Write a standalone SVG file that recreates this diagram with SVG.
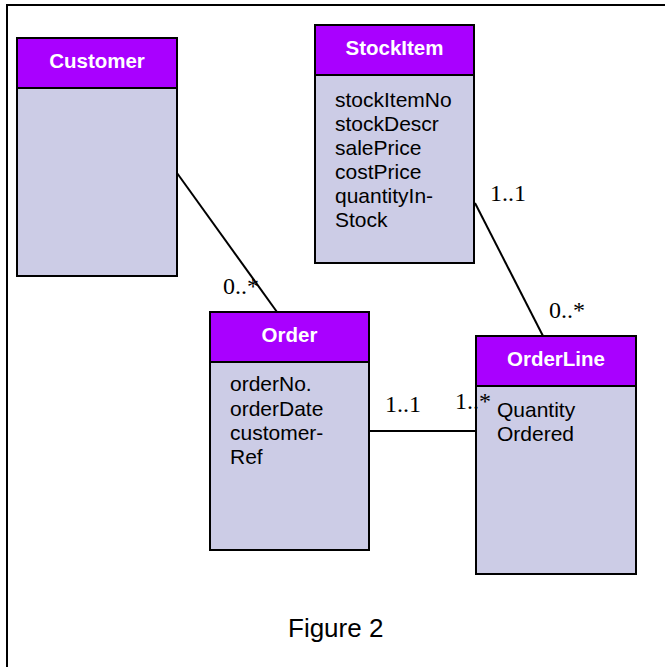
<svg xmlns="http://www.w3.org/2000/svg" width="665" height="667" viewBox="0 0 665 667">
<style>
.hd{fill:#A900FF;stroke:#000;stroke-width:2}
.bd{fill:#CCCCE6;stroke:#000;stroke-width:2}
.t{font-family:"Liberation Sans",Arial,sans-serif;font-size:20.5px;font-weight:bold;fill:#fff;text-anchor:middle}
.a{font-family:"Liberation Sans",Arial,sans-serif;font-size:21px;fill:#000}
.m{font-family:"Liberation Serif","Times New Roman",serif;font-size:24px;fill:#000}
.c{stroke:#000;stroke-width:2;fill:none}
</style>
<rect x="7" y="5" width="700" height="700" fill="#fff" stroke="#000" stroke-width="2"/>
<g id="connectors">
<line class="c" x1="177" y1="173" x2="277" y2="312"/>
<line class="c" x1="475" y1="203" x2="543" y2="336"/>
<line class="c" x1="369" y1="431" x2="476" y2="431"/>
</g>
<g id="customer">
<rect class="bd" x="17" y="88" width="160" height="188"/>
<rect class="hd" x="17" y="38" width="160" height="50"/>
<text class="t" x="97" y="68">Customer</text>
</g>
<g id="stockitem">
<rect class="bd" x="315" y="75" width="159" height="188"/>
<rect class="hd" x="315" y="25" width="159" height="50"/>
<text class="t" x="394.5" y="55">StockItem</text>
<text class="a" x="335" y="107">stockItemNo</text>
<text class="a" x="335" y="131">stockDescr</text>
<text class="a" x="335" y="155">salePrice</text>
<text class="a" x="335" y="179">costPrice</text>
<text class="a" x="335" y="203">quantityIn-</text>
<text class="a" x="335" y="227">Stock</text>
</g>
<g id="order">
<rect class="bd" x="210" y="362" width="159" height="188"/>
<rect class="hd" x="210" y="312" width="159" height="50"/>
<text class="t" x="289.5" y="342">Order</text>
<text class="a" x="230" y="391">orderNo.</text>
<text class="a" x="230" y="416">orderDate</text>
<text class="a" x="230" y="440">customer-</text>
<text class="a" x="230" y="464">Ref</text>
</g>
<g id="orderline">
<rect class="bd" x="476" y="386" width="160" height="188"/>
<rect class="hd" x="476" y="336" width="160" height="50"/>
<text class="t" x="556" y="366">OrderLine</text>
<text class="a" x="497" y="417">Quantity</text>
<text class="a" x="497" y="441">Ordered</text>
</g>
<g id="labels">
<text class="m" x="223" y="294">0..*</text>
<text class="m" x="490" y="201">1..1</text>
<text class="m" x="549" y="318">0..*</text>
<text class="m" x="385" y="412">1..1</text>
<text class="m" x="455" y="409">1..*</text>
<text class="a" x="288" y="637" style="font-size:26px">Figure 2</text>
</g>
</svg>
